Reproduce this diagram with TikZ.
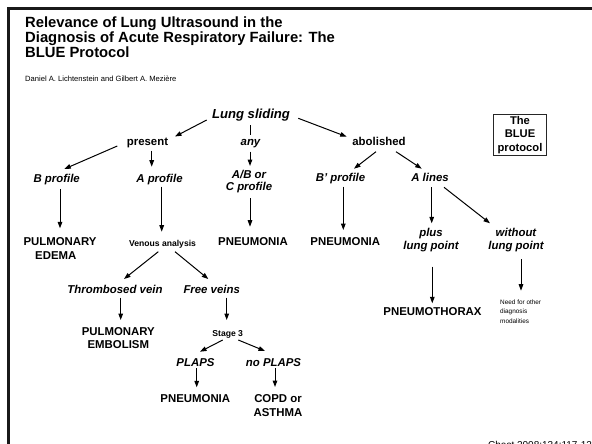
\documentclass[tikz,border=0pt]{standalone}
\usepackage{fontspec}
\setmainfont{Liberation Sans}
\usetikzlibrary{arrows.meta}

\tikzset{
  lbl/.style={inner sep=0pt, text height=.72em, text depth=0pt},
  res/.style={lbl, font=\fontsize{11.4}{13.5}\selectfont\bfseries},
  resm/.style={inner sep=0pt, align=center, font=\fontsize{11.4}{13.5}\selectfont\bfseries},
  prof/.style={lbl, font=\fontsize{11.4}{13.5}\selectfont\bfseries\itshape},
  profm/.style={inner sep=0pt, align=center, font=\fontsize{11.4}{13.4}\selectfont\bfseries\itshape},
  small/.style={lbl, font=\fontsize{8.6}{10}\selectfont\bfseries},
  arr/.style={-{Triangle[length=6.5pt,width=4.6pt]}, line width=1pt},
  plain/.style={line width=1pt},
}

\begin{document}
\begin{tikzpicture}[x=1pt, y=-1pt]
  \clip (0,0) rectangle (592,444);
  \fill[white] (0,0) rectangle (592,444);

  % page frame (left and top rules)
  \draw[line width=3pt, black!90] (8.5,450) -- (8.5,8.3) -- (600,8.3);

  % heading
  \node[anchor=north west, align=left, inner sep=0pt,
        font=\fontsize{14.8}{15}\selectfont\bfseries] (title) at (25,16.4)
    {Relevance of Lung Ultrasound in the\\Diagnosis of Acute Respiratory Failure: The\\BLUE Protocol};
  \node[lbl, anchor=west, font=\fontsize{7.6}{9}\selectfont] (author) at (25,78.3)
    {Daniel A. Lichtenstein and Gilbert A. Mezière};

  % protocol box
  \node[draw, line width=0.9pt, black!85, text=black, minimum width=53.4pt, minimum height=41.7pt,
        inner sep=0pt, align=center, font=\fontsize{11.2}{13.6}\selectfont\bfseries] (blue) at (520,134.85)
    {The\\BLUE\\protocol};

  % decision tree
  \node[lbl, font=\fontsize{13.1}{15}\selectfont\bfseries\itshape] (lung) at (251,114.5) {Lung sliding};
  \node[res] (present) at (147.5,141.5) {present};
  \node[prof] (any) at (250.5,141.5) {any};
  \node[res] (abolished) at (379,141.5) {abolished};

  \node[prof] (bprof) at (56.7,179.3) {B profile};
  \node[prof] (aprof) at (159.5,179.3) {A profile};
  \node[profm, font=\fontsize{11.4}{11.3}\selectfont\bfseries\itshape] (abc) at (249,181.7) {A/B or\\C profile};
  \node[prof] (bpprof) at (340.5,178.3) {B' profile};
  \node[prof] (alines) at (430,178.3) {A lines};

  \node[inner sep=0pt, align=left, anchor=west, font=\fontsize{11.4}{14}\selectfont\bfseries] (edema) at (23.3,249)
    {PULMONARY\\\hspace*{11.7pt}EDEMA};
  \node[small] (venous) at (162.5,243.3) {Venous analysis};
  \node[res] (pneu1) at (253,241.7) {PNEUMONIA};
  \node[res] (pneu2) at (345.3,241.7) {PNEUMONIA};
  \node[profm] (plus) at (431,240) {plus\\lung point};
  \node[profm] (without) at (516,240) {without\\lung point};

  \node[res] (pntx) at (432.5,312.3) {PNEUMOTHORAX};
  \node[inner sep=0pt, align=left, anchor=west, font=\fontsize{6.4}{9.3}\selectfont] (need) at (500,311.7)
    {Need for other\\diagnosis\\modalities};

  \node[prof] (thromb) at (115,290) {Thrombosed vein};
  \node[prof] (free) at (211.7,290) {Free veins};
  \node[resm, font=\fontsize{11.4}{13.3}\selectfont\bfseries] (embol) at (118.3,338.3) {PULMONARY\\EMBOLISM};
  \node[small] (stage) at (227.7,333.3) {Stage 3};
  \node[prof] (plaps) at (195.5,362.7) {PLAPS};
  \node[prof] (noplaps) at (273.5,362.7) {no PLAPS};
  \node[res] (pneu3) at (195.3,398.8) {PNEUMONIA};
  \node[resm] (copd) at (278,405.8) {COPD or\\ASTHMA};

  % citation line at the foot, running off the page edge
  \node[inner sep=0pt, anchor=base west, font=\fontsize{10}{12}\selectfont] (cite) at (488,448.3)
    {Chest 2008;134:117-125};

  % connectors
  \draw[arr] ([shift={(-44.3,5.5)}]lung.center) -- ([shift={(27.5,-5)}]present.center);
  \draw[plain] ([shift={(-1,10.5)}]lung.center) -- ([shift={(-0.5,-6.5)}]any.center);
  \draw[arr] ([shift={(-0.5,10.2)}]any.center) -- ([shift={(1,-15.7)}]abc.center);
  \draw[arr] ([shift={(47.3,3.8)}]lung.center) -- ([shift={(-32.3,-4.8)}]abolished.center);

  \draw[arr] ([shift={(-30.2,4.5)}]present.center) -- ([shift={(7.6,-10.3)}]bprof.center);
  \draw[arr] ([shift={(4.2,9.2)}]present.center) -- ([shift={(-7.8,-12.6)}]aprof.center);
  \draw[arr] ([shift={(-3,10.2)}]abolished.center) -- ([shift={(13.5,-9.6)}]bpprof.center);
  \draw[arr] ([shift={(17,10.2)}]abolished.center) -- ([shift={(-8.3,-9.6)}]alines.center);

  \draw[arr] ([shift={(3.3,9.7)}]bprof.center) -- ([shift={(36.7,-20.7)}]edema.west);
  \draw[arr] ([shift={(2.2,7.4)}]aprof.center) -- ([shift={(-0.8,-11.6)}]venous.center);
  \draw[arr] ([shift={(1,16.6)}]abc.center) -- ([shift={(-3,-15)}]pneu1.center);
  \draw[arr] ([shift={(2.8,8.4)}]bpprof.center) -- ([shift={(-2,-11.7)}]pneu2.center);
  \draw[arr] ([shift={(1.7,8.7)}]alines.center) -- ([shift={(0.7,-16.7)}]plus.center);
  \draw[arr] ([shift={(14,9)}]alines.center) -- ([shift={(-26,-16.7)}]without.center);

  \draw[arr] ([shift={(1.3,26.7)}]plus.center) -- ([shift={(-0.2,-9)}]pntx.center);
  \draw[arr] ([shift={(5,19.3)}]without.center) -- ([shift={(21,-21)}]need.west);

  \draw[arr] ([shift={(-4.2,8.4)}]venous.center) -- ([shift={(9,-11)}]thromb.center);
  \draw[arr] ([shift={(12.5,8.4)}]venous.center) -- ([shift={(-3.4,-11)}]free.center);
  \draw[arr] ([shift={(5.7,7.7)}]thromb.center) -- ([shift={(2.4,-18.3)}]embol.center);
  \draw[arr] ([shift={(15,7.7)}]free.center) -- ([shift={(-1,-13.3)}]stage.center);
  \draw[arr] ([shift={(-5,6.7)}]stage.center) -- ([shift={(4.5,-11)}]plaps.center);
  \draw[arr] ([shift={(10.6,6.7)}]stage.center) -- ([shift={(-8.5,-11.7)}]noplaps.center);
  \draw[arr] ([shift={(1.2,5.6)}]plaps.center) -- ([shift={(1.4,-11.5)}]pneu3.center);
  \draw[arr] ([shift={(1.5,5.3)}]noplaps.center) -- ([shift={(-3,-18.8)}]copd.center);
\end{tikzpicture}
\end{document}
